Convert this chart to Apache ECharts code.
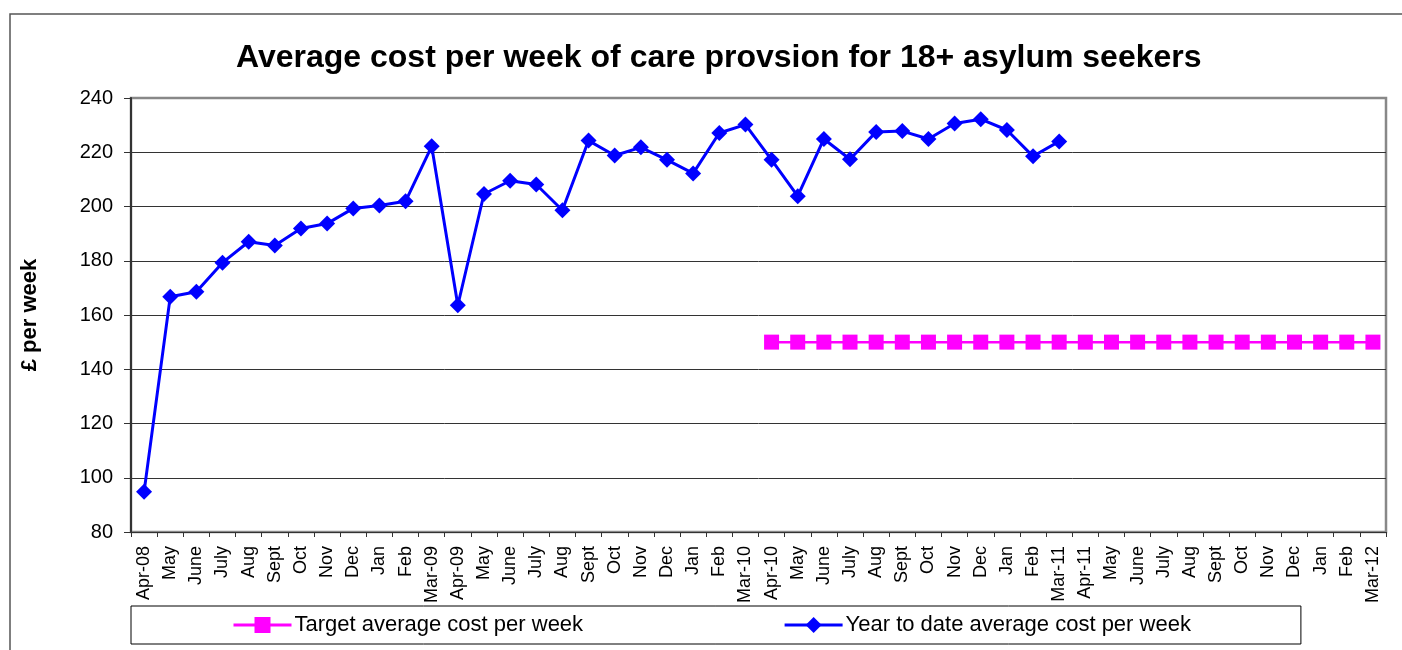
<!DOCTYPE html>
<html>
<head>
<meta charset="utf-8">
<script src="https://cdn.jsdelivr.net/npm/echarts@6/dist/echarts.min.js"></script>
<style>
  html, body { margin: 0; padding: 0; background: #fff; }
  #chart { width: 1402px; height: 650px; }
</style>
</head>
<body>
<div id="chart"></div>
<script>
  // months Apr-08 .. Mar-12
  var months = ['Apr-08', 'May', 'June', 'July', 'Aug', 'Sept', 'Oct', 'Nov', 'Dec', 'Jan', 'Feb', 'Mar-09',
                'Apr-09', 'May', 'June', 'July', 'Aug', 'Sept', 'Oct', 'Nov', 'Dec', 'Jan', 'Feb', 'Mar-10',
                'Apr-10', 'May', 'June', 'July', 'Aug', 'Sept', 'Oct', 'Nov', 'Dec', 'Jan', 'Feb', 'Mar-11',
                'Apr-11', 'May', 'June', 'July', 'Aug', 'Sept', 'Oct', 'Nov', 'Dec', 'Jan', 'Feb', 'Mar-12'];

  // year to date average cost per week (Apr-08 .. Mar-11)
  var ytdCost = [94.8, 166.7, 168.6, 179.3, 187.0, 185.6, 191.9, 193.7, 199.3, 200.4, 201.9, 222.2,
                 163.6, 204.6, 209.5, 208.1, 198.6, 224.3, 218.8, 221.8, 217.2, 212.2, 227.1, 230.2,
                 217.2, 203.8, 224.9, 217.4, 227.5, 227.8, 224.9, 230.6, 232.2, 228.2, 218.5, 224.0];

  // target, only from Apr-10
  var target = [null, null, null, null, null, null, null, null, null, null, null, null,
                null, null, null, null, null, null, null, null, null, null, null, null,
                150, 150, 150, 150, 150, 150, 150, 150, 150, 150, 150, 150,
                150, 150, 150, 150, 150, 150, 150, 150, 150, 150, 150, 150];

  var chart = echarts.init(document.getElementById('chart'));

  var option = {
      animation: false,
      textStyle: { fontFamily: 'Liberation Sans, Arial, sans-serif', color: '#000' },
      title: {
          text: 'Average cost per week of care provsion for 18+ asylum seekers',
          left: 231,
          top: 37,
          textStyle: { fontSize: 32, fontWeight: 'bold', color: '#000', fontFamily: 'Liberation Sans, Arial, sans-serif' }
      },
      graphic: [{
          type: 'rect',
          shape: { x: 10, y: 14, width: 1420, height: 680 },
          style: { fill: null, stroke: '#555', lineWidth: 1.5 },
          silent: true,
          z: -1
      }],
      legend: {
          left: 131,
          top: 606,
          orient: 'horizontal',
          data: ['Target average cost per week', 'Year to date average cost per week'],
          itemWidth: 58,
          itemHeight: 20,
          itemGap: 200,
          padding: [8, 110, 8, 101],
          borderColor: '#000',
          borderWidth: 1,
          borderRadius: 0,
          lineStyle: { width: 3 },
          textStyle: { fontSize: 22, color: '#000', padding: [0, 0, 0, -2] }
      },
      grid: {
          left: 131,
          right: 16,
          top: 98,
          bottom: 118,
          show: true,
          borderColor: '#888',
          borderWidth: 2.5,
          backgroundColor: '#fff'
      },
      xAxis: {
          type: 'category',
          data: months,
          boundaryGap: true,
          axisLine: { lineStyle: { color: '#333', width: 1 } },
          axisTick: { show: true, length: 5, interval: 0, lineStyle: { color: '#333' } },
          axisLabel: { rotate: 90, interval: 0, fontSize: 18, color: '#000', margin: 14 },
          splitLine: { show: false }
      },
      yAxis: {
          type: 'value',
          min: 80,
          max: 240,
          interval: 20,
          name: '£ per week',
          nameLocation: 'middle',
          nameGap: 90,
          nameTextStyle: { fontSize: 22, fontWeight: 'bold', color: '#000' },
          axisLine: { show: true, lineStyle: { color: '#333', width: 2 } },
          axisTick: { show: true, length: 7, lineStyle: { color: '#333' } },
          axisLabel: { fontSize: 20, color: '#000', margin: 18 },
          splitLine: { showMaxLine: false, lineStyle: { color: '#333', width: 1 } }
      },
      series: [
          {
              name: 'Target average cost per week',
              type: 'line',
              data: target,
              symbol: 'rect',
              symbolSize: 15,
              itemStyle: { color: '#ff00ff' },
              lineStyle: { color: '#ff00ff', width: 2.5 },
              z: 2
          },
          {
              name: 'Year to date average cost per week',
              type: 'line',
              data: ytdCost,
              symbol: 'diamond',
              symbolSize: 16,
              itemStyle: { color: '#0000ff' },
              lineStyle: { color: '#0000ff', width: 3 },
              z: 3
          }
      ]
  };

  chart.setOption(option);
</script>
</body>
</html>
